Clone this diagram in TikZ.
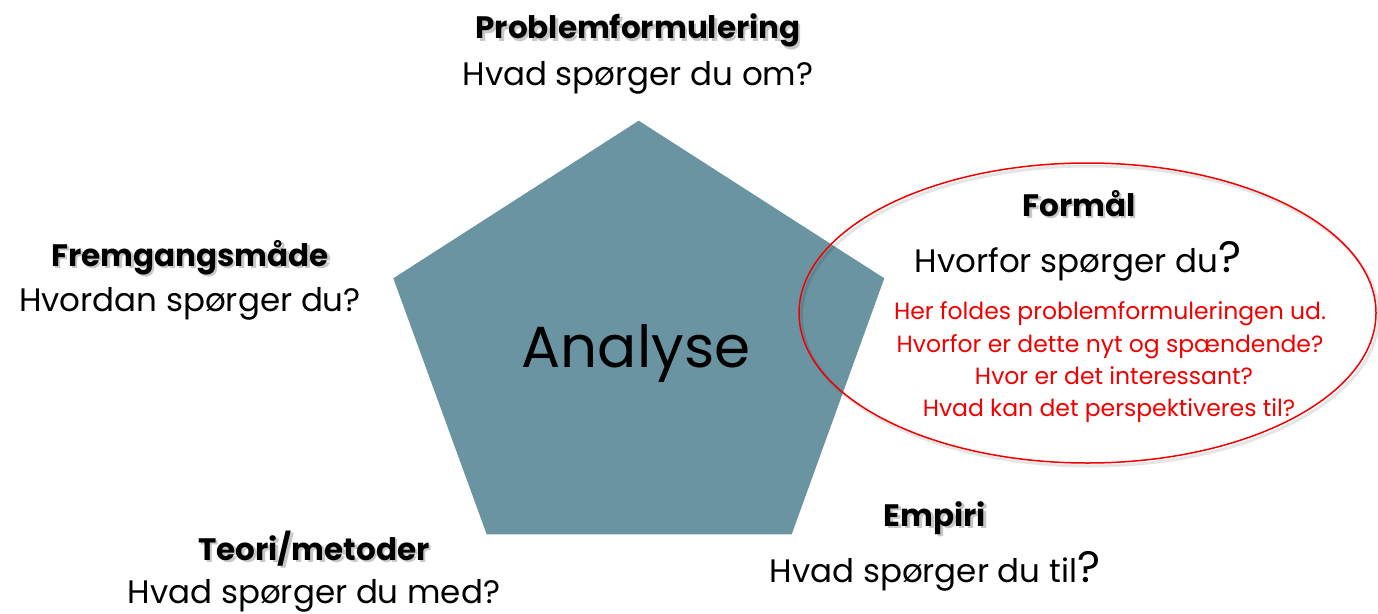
\documentclass[tikz,border=0pt]{standalone}
\usepackage{fontspec}
\setmainfont{Poppins}
\usetikzlibrary{shapes.geometric}
\definecolor{pent}{HTML}{6A94A1}
\definecolor{ovalred}{HTML}{F20000}
\newcommand\BigQ{{\fontsize{44}{44}\selectfont ?}}
\tikzset{
  head/.style={anchor=base, inner sep=0pt, font=\fontsize{31}{34}\selectfont\bfseries},
  headshadow/.style={head, text=black!55, opacity=0.4},
  sub/.style={anchor=base, inner sep=0pt, font=\fontsize{32.5}{36}\selectfont},
  redline/.style={anchor=base, inner sep=0pt, text=ovalred, font=\fontsize{23.5}{26}\selectfont},
}
\begin{document}
\begin{tikzpicture}[x=1pt,y=-1pt]
\useasboundingbox (0,0) rectangle (1378,613);
% pentagon
\coordinate (pT) at (638.7,120.7);
\coordinate (pR) at (884.3,278.3);
\coordinate (pBR) at (791.7,534.3);
\coordinate (pBL) at (486.7,534.3);
\coordinate (pL) at (393.3,278.3);
\fill[pent] (pT) -- (pR) -- (pBR) -- (pBL) -- (pL) -- cycle;
\node[anchor=base, inner sep=0pt, font=\fontsize{58}{64}\selectfont] (analyse) at (636,367) {Analyse};
% oval
\node[ellipse, draw=black, opacity=0.1, line width=3pt, minimum width=577pt, minimum height=300pt, inner sep=0pt] (ovalshadow) at (1090,316) {};
\node[ellipse, draw=ovalred, line width=1.5pt, minimum width=577pt, minimum height=300pt, inner sep=0pt] (oval) at (1087.5,313) {};
% headings with shadows
\node[headshadow] (s1) at (640.5,41) {Problemformulering};
\node[head] (h1) at (638,38.5) {Problemformulering};
\node[sub] (t1) at (638,85) {Hvad spørger du om?};

\node[headshadow] (s2) at (192.5,268.5) {Fremgangsmåde};
\node[head] (h2) at (190,266) {Fremgangsmåde};
\node[sub] (t2) at (190,311) {Hvordan spørger du?};

\node[headshadow] (s3) at (1081.5,218.5) {Formål};
\node[head] (h3) at (1079,216) {Formål};
\node[sub] (t3) at (1078,272) {Hvorfor spørger du\BigQ};

\node[redline] (r1) at (1110,319) {Her foldes problemformuleringen ud.};
\node[redline] (r2) at (1110,352) {Hvorfor er dette nyt og spændende?};
\node[redline] (r3) at (1114,384) {Hvor er det interessant?};
\node[redline] (r4) at (1109,416) {Hvad kan det perspektiveres til?};

\node[headshadow] (s4) at (937.5,528.5) {Empiri};
\node[head] (h4) at (935,526) {Empiri};
\node[sub] (t4) at (935,582) {Hvad spørger du til\BigQ};

\node[headshadow] (s5) at (316.5,562.5) {Teori/metoder};
\node[head] (h5) at (314,560) {Teori/metoder};
\node[sub] (t5) at (314,603) {Hvad spørger du med?};
\end{tikzpicture}
\end{document}
